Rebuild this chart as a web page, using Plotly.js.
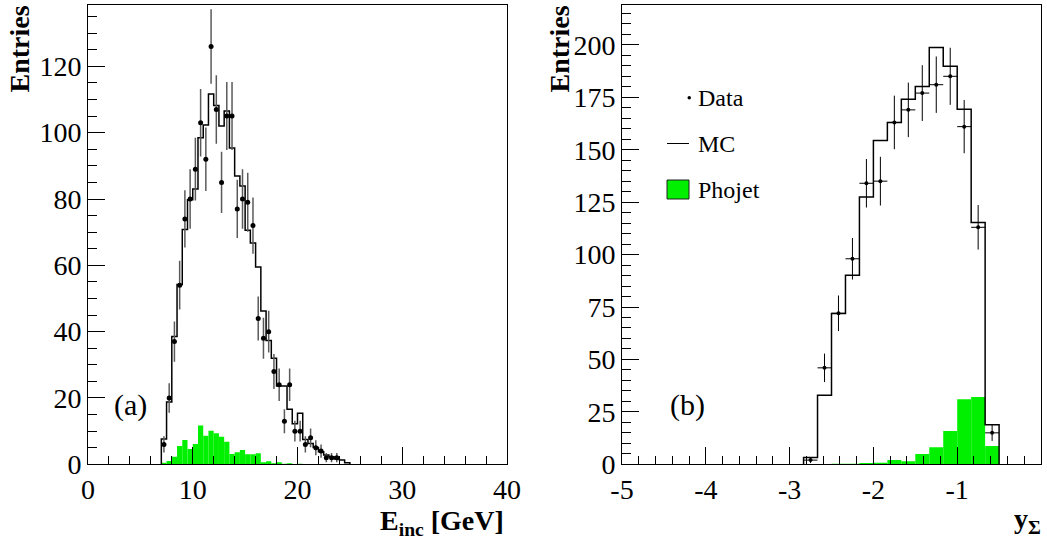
<!DOCTYPE html>
<html>
<head>
<meta charset="utf-8">
<script src="https://cdn.plot.ly/plotly-3.0.1.min.js"></script>
<style>
  html, body { margin: 0; padding: 0; background: #ffffff; }
  #chart { width: 1047px; height: 544px; }
</style>
</head>
<body>
<div id="chart"></div>
<script>
// ---------------- data: panel (a), E_inc [GeV], bins of 0.5 GeV starting at 7 GeV
const eFirstEdge = 7.0;
const eBinWidth = 0.5;
const eMC = [7.6, 18.8, 38.5, 54.2, 70.8, 79.8, 83.0, 98.5, 102.3, 111.7,
             108.2, 102.0, 106.5, 95.4, 86.9, 83.9, 70.6, 66.7, 59.5, 46.2,
             37.3, 32.0, 23.6, 23.6, 16.6, 12.2, 15.4, 7.5, 6.3, 5.1,
             3.8, 2.8, 2.3, 1.6, 1.3, 0.5];
const ePhojet = [0.5, 1.0, 2.3, 5.5, 7.3, 4.6, 6.1, 11.7, 8.6, 10.1,
                 9.4, 8.3, 6.8, 3.1, 3.6, 4.3, 3.0, 3.0, 3.3, 0.6,
                 0.9, 0.3, 0.6, 0.2, 0.3, 0.1, 0.2];
const eData = [6, 20, 37, 54, 74, 80, 89, 103, 92, 126,
               107, 85, 105, 105, 77, 80, 79, 72, 44, 38,
               40, 28, 24, 13, 24, 10, 10, 6, 8, 5,
               4, 2, 2, 2];

// ---------------- data: panel (b), y_Sigma, bins of 1/6 starting at -17/6
const yFirstEdge = -17 / 6;
const yBinWidth = 1 / 6;
const yMC = [3.3, 32.9, 71.9, 90.1, 127.5, 154.4, 163, 174.1, 180.1, 198.7, 189.8, 169.3, 115.3, 18.8];
const yPhojet = [0, 0.1, 0.3, 0.3, 0.6, 0.7, 2.0, 1.4, 4.9, 8.1, 15.9, 31.0, 32.1, 8.7];
const yData = [2, 46, 72, 98, 134, 135, 163, 169, 177, 181, 185, 161, 113, 15];

// ---------------- tick labels
const eTickVals = [0, 10, 20, 30, 40];
const eTickText = ['0', '10', '20', '30', '40'];
const ySigTickVals = [-5, -4, -3, -2, -1, 0];
const ySigTickText = ['-5', '-4', '-3', '-2', '-1', '0'];
const entriesTickValsA = [0, 20, 40, 60, 80, 100, 120];
const entriesTickValsB = [0, 25, 50, 75, 100, 125, 150, 175, 200];

// ---------------- helpers
function centers(firstEdge, width, n) {
  const c = [];
  for (let i = 0; i < n; i++) c.push(firstEdge + (i + 0.5) * width);
  return c;
}
function stepLine(firstEdge, width, values) {
  const x = [firstEdge], y = [0];
  for (let i = 0; i < values.length; i++) { x.push(firstEdge + i * width); y.push(values[i]); }
  x.push(firstEdge + values.length * width); y.push(0);
  return { x, y };
}
function poisson(values) { return values.map(v => Math.sqrt(v)); }

const SERIF = 'Liberation Serif';
const GREEN = '#00f000';

const stepA = stepLine(eFirstEdge, eBinWidth, eMC);
const stepB = stepLine(yFirstEdge, yBinWidth, yMC);

const traces = [
  { type: 'bar', name: 'Phojet', x: centers(eFirstEdge, eBinWidth, ePhojet.length), y: ePhojet,
    width: eBinWidth, marker: { color: GREEN, line: { width: 0 } }, xaxis: 'x', yaxis: 'y', showlegend: false, hoverinfo: 'skip' },
  { type: 'scatter', mode: 'lines', name: 'MC', x: stepA.x, y: stepA.y,
    line: { shape: 'hv', color: '#000', width: 1.5 }, xaxis: 'x', yaxis: 'y', showlegend: false, hoverinfo: 'skip' },
  { type: 'scatter', mode: 'markers', name: 'Data', x: centers(eFirstEdge, eBinWidth, eData.length), y: eData,
    marker: { color: '#000', size: 5 },
    error_y: { type: 'data', array: poisson(eData), visible: true, color: '#5a5a5a', thickness: 1.5, width: 0 },
    xaxis: 'x', yaxis: 'y', showlegend: false, hoverinfo: 'skip' },

  { type: 'bar', name: 'Phojet', x: centers(yFirstEdge, yBinWidth, yPhojet.length), y: yPhojet,
    width: yBinWidth, marker: { color: GREEN, line: { width: 0 } }, xaxis: 'x2', yaxis: 'y2', showlegend: false, hoverinfo: 'skip' },
  { type: 'scatter', mode: 'lines', name: 'MC', x: stepB.x, y: stepB.y,
    line: { shape: 'hv', color: '#000', width: 1.5 }, xaxis: 'x2', yaxis: 'y2', showlegend: false, hoverinfo: 'skip' },
  { type: 'scatter', mode: 'markers', name: 'Data', x: centers(yFirstEdge, yBinWidth, yData.length), y: yData,
    marker: { color: '#000', size: 4 },
    error_y: { type: 'data', array: poisson(yData), visible: true, color: '#000', thickness: 1, width: 0 },
    error_x: { type: 'constant', value: yBinWidth / 2, visible: true, color: '#000', thickness: 1, width: 0 },
    xaxis: 'x2', yaxis: 'y2', showlegend: false, hoverinfo: 'skip' }
];

const W = 1047, H = 544;
const px = v => v / W;
const py = v => 1 - v / H;

function axisBase() {
  return {
    showline: true, linecolor: '#000', linewidth: 1, mirror: true,
    showgrid: false, zeroline: false,
    ticks: 'inside', ticklen: 17, tickwidth: 1, tickcolor: '#000',
    tickfont: { family: SERIF, size: 28, color: '#000' }, fixedrange: true
  };
}

const layout = {
  width: W, height: H,
  margin: { l: 0, r: 0, t: 0, b: 0 },
  paper_bgcolor: '#fff', plot_bgcolor: '#fff',
  font: { family: SERIF, color: '#000' },
  barmode: 'overlay',
  showlegend: false,
  xaxis: Object.assign(axisBase(), {
    domain: [px(88), px(507)], range: [0, 40], anchor: 'y',
    tickmode: 'array', tickvals: eTickVals, ticktext: eTickText,
    minor: { tickmode: 'linear', tick0: 0, dtick: 2, ticks: 'inside', ticklen: 8, tickcolor: '#000', showgrid: false }
  }),
  yaxis: Object.assign(axisBase(), {
    domain: [py(464.3), py(5)], range: [0, 138.5], anchor: 'x',
    tickmode: 'array', tickvals: entriesTickValsA, ticktext: entriesTickValsA.map(String),
    minor: { tickmode: 'linear', tick0: 0, dtick: 5, ticks: 'inside', ticklen: 9, tickcolor: '#000', showgrid: false }
  }),
  xaxis2: Object.assign(axisBase(), {
    domain: [px(622), px(1041)], range: [-5, 0], anchor: 'y2',
    tickmode: 'array', tickvals: ySigTickVals, ticktext: ySigTickText,
    minor: { tickmode: 'linear', tick0: -5, dtick: 0.2, ticks: 'inside', ticklen: 8, tickcolor: '#000', showgrid: false }
  }),
  yaxis2: Object.assign(axisBase(), {
    domain: [py(464.3), py(5)], range: [0, 219], anchor: 'x2',
    tickmode: 'array', tickvals: entriesTickValsB, ticktext: entriesTickValsB.map(String),
    minor: { tickmode: 'linear', tick0: 0, dtick: 5, ticks: 'inside', ticklen: 9, tickcolor: '#000', showgrid: false }
  }),
  shapes: [
    // legend symbols (panel b)
    { type: 'line', xref: 'paper', yref: 'paper', x0: px(667), x1: px(689), y0: py(143.5), y1: py(143.5), line: { color: '#000', width: 1 } },
    { type: 'rect', xref: 'paper', yref: 'paper', x0: px(667), x1: px(689), y0: py(199), y1: py(180), fillcolor: GREEN, line: { color: '#222', width: 1 } },
    { type: 'circle', xref: 'paper', yref: 'paper', x0: px(687.5), x1: px(691), y0: py(99.5), y1: py(96), fillcolor: '#000', line: { color: '#000', width: 0 } }
  ],
  annotations: [
    { text: '<b>Entries</b>', xref: 'paper', yref: 'paper', x: px(19), y: py(4), xanchor: 'center', yanchor: 'top', textangle: -90, showarrow: false, font: { family: SERIF, size: 28, color: '#000' } },
    { text: '<b>Entries</b>', xref: 'paper', yref: 'paper', x: px(559), y: py(4), xanchor: 'center', yanchor: 'top', textangle: -90, showarrow: false, font: { family: SERIF, size: 28, color: '#000' } },
    { text: '<b>E<sub>inc</sub> [GeV]</b>', xref: 'paper', yref: 'paper', x: px(506), y: py(522), xanchor: 'right', yanchor: 'middle', showarrow: false, font: { family: SERIF, size: 28, color: '#000' } },
    { text: '<b>y<sub>Σ</sub></b>', xref: 'paper', yref: 'paper', x: px(1043), y: py(520), xanchor: 'right', yanchor: 'middle', showarrow: false, font: { family: SERIF, size: 28, color: '#000' } },
    { text: '(a)', xref: 'paper', yref: 'paper', x: px(130), y: py(405), xanchor: 'center', yanchor: 'middle', showarrow: false, font: { family: SERIF, size: 30, color: '#000' } },
    { text: '(b)', xref: 'paper', yref: 'paper', x: px(688), y: py(405), xanchor: 'center', yanchor: 'middle', showarrow: false, font: { family: SERIF, size: 30, color: '#000' } },
    { text: 'Data', xref: 'paper', yref: 'paper', x: px(696), y: py(98), xanchor: 'left', yanchor: 'middle', showarrow: false, font: { family: SERIF, size: 24, color: '#000' } },
    { text: 'MC', xref: 'paper', yref: 'paper', x: px(696), y: py(144), xanchor: 'left', yanchor: 'middle', showarrow: false, font: { family: SERIF, size: 24, color: '#000' } },
    { text: 'Phojet', xref: 'paper', yref: 'paper', x: px(696), y: py(190), xanchor: 'left', yanchor: 'middle', showarrow: false, font: { family: SERIF, size: 24, color: '#000' } }
  ]
};

Plotly.newPlot('chart', traces, layout, { displayModeBar: false, staticPlot: true });
</script>
</body>
</html>
